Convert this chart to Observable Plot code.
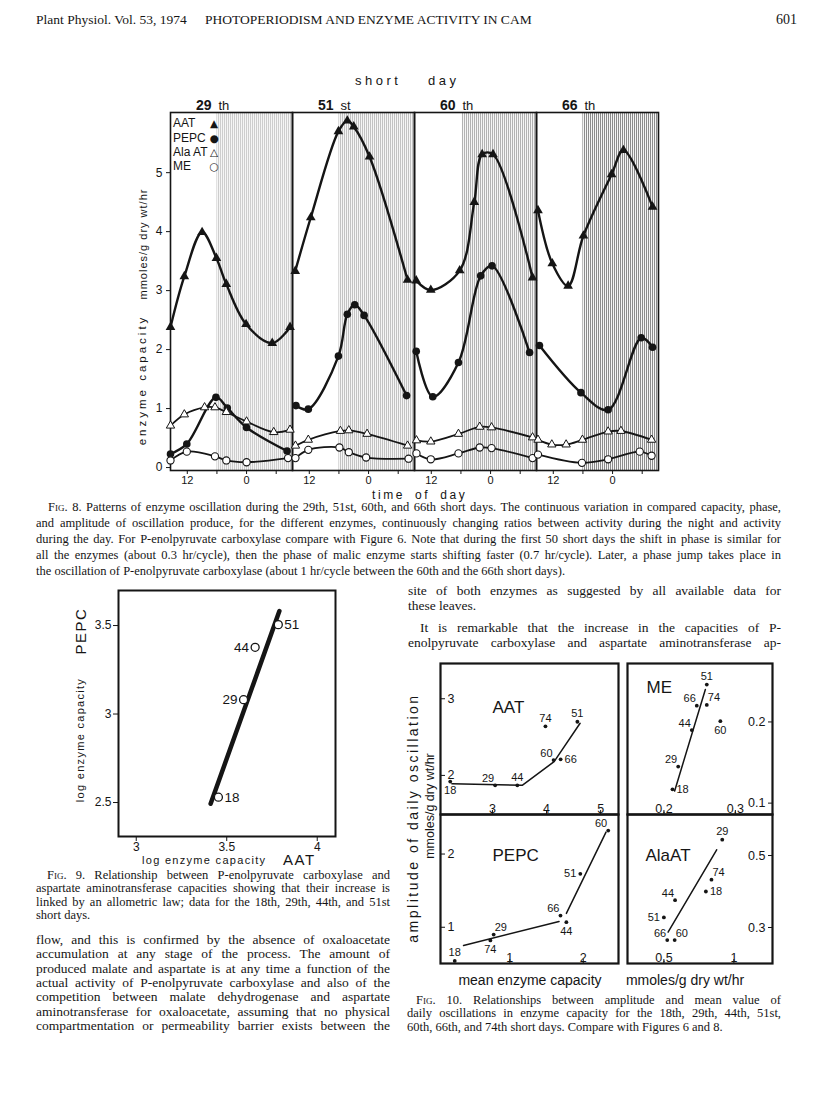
<!DOCTYPE html>
<html><head><meta charset="utf-8">
<script src="https://cdn.jsdelivr.net/npm/d3@7"></script>
<script src="https://cdn.jsdelivr.net/npm/@observablehq/plot@0.6"></script>
<style>
body{margin:0;background:#fff;}
#page{position:relative;width:816px;height:1107px;overflow:hidden;background:#fff;}
</style>
</head><body><div id="page"></div>
<script>
// ---------------- DATA ----------------
// Fig. 8 : hour of day (24 = midnight "0"), enzyme capacity (mmoles/g dry wt/hr)
const fig8Panels = ["29", "51", "60", "66"];
const fig8PanelSuffix = ["th", "st", "th", "th"];
const fig8NightStart = [18, 18, 18.3, 18];
const fig8NightEnd = [33.3, 33.3, 33.3, 33.3];
const fig8XTicks = [12, 18, 24, 30];
const fig8XTickLabels = ["12", "", "0", ""];
const fig8YTicks = [0, 1, 2, 3, 4, 5];

const AAT_29 = [[8.6,2.38],[11.4,3.24],[15.0,3.99],[17.9,3.55],[19.9,3.11],[23.9,2.43],[29.2,2.11],[32.8,2.38]];
const AAT_51 = [[9.15,3.33],[12.3,4.24],[17.9,5.70],[19.7,5.88],[21.0,5.78],[24.2,5.27],[31.9,3.18]];
const AAT_60 = [[8.95,3.17],[11.9,3.01],[17.75,3.34],[20.7,4.50],[22.3,5.31],[24.5,5.31],[32.5,3.22]];
const AAT_66 = [[8.9,4.36],[11.8,3.46],[15.0,3.08],[18.1,3.93],[23.8,4.97],[26.2,5.38],[32.1,4.42]];

const PEPC_29 = [[8.6,0.23],[11.9,0.40],[17.8,1.19],[20.1,1.01],[24.0,0.68],[32.2,0.28]];
const PEPC_51 = [[9.3,1.05],[11.8,0.99],[17.9,1.89],[19.7,2.60],[21.2,2.76],[23.1,2.58],[31.7,1.22]];
const PEPC_60 = [[8.95,1.97],[12.3,1.20],[17.5,1.78],[22.0,3.25],[24.3,3.42],[31.9,1.95]];
const PEPC_66 = [[9.2,2.07],[17.6,1.27],[23.1,0.98],[29.8,2.20],[32.1,2.04]];

const ALAAT_29 = [[8.6,0.71],[11.4,0.90],[15.5,1.02],[17.6,1.02],[19.9,0.94],[24.0,0.78],[29.5,0.60],[32.8,0.64]];
const ALAAT_51 = [[9.2,0.37],[11.8,0.47],[18.3,0.62],[20.0,0.63],[23.7,0.57],[31.9,0.37]];
const ALAAT_60 = [[9.0,0.46],[11.9,0.44],[17.5,0.57],[21.8,0.69],[24.2,0.68],[32.5,0.51]];
const ALAAT_66 = [[8.9,0.47],[11.7,0.39],[14.6,0.39],[17.9,0.47],[23.1,0.61],[25.7,0.62],[31.9,0.47]];

const ME_29 = [[8.6,0.12],[11.9,0.27],[17.6,0.19],[19.9,0.12],[24.0,0.09],[32.4,0.16]];
const ME_51 = [[9.2,0.16],[11.8,0.30],[18.1,0.34],[20.0,0.26],[23.5,0.17],[32.1,0.15]];
const ME_60 = [[9.0,0.24],[11.9,0.14],[17.5,0.24],[21.8,0.34],[24.2,0.33],[32.5,0.16]];
const ME_66 = [[8.9,0.22],[17.8,0.08],[23.1,0.14],[29.5,0.27],[31.9,0.20]];

// Fig. 9 : log enzyme capacity
const fig9Days = ["18", "29", "44", "51"];
const fig9AAT = [3.454, 3.593, 3.657, 3.785];
const fig9PEPC = [2.53, 3.081, 3.377, 3.505];
const fig9LabelSide = ["right", "left", "left", "right"];
const fig9FitAAT = [3.411, 3.791];
const fig9FitPEPC = [2.493, 3.582];
const fig9XTicks = [3, 3.5, 4];
const fig9YTicks = [2.5, 3, 3.5];

// Fig. 10 : mean enzyme capacity vs amplitude of daily oscillation
const aatDays = ["18","29","44","60","66","74","51"];
const aatMean = [2.22,3.05,3.46,4.13,4.26,3.98,4.57];
const aatAmp  = [1.92,1.87,1.87,2.20,2.21,2.64,2.70];
const aatLabelPos = ["s","nw","n","nw","e","n","n"];
const aatFitMean = [2.25,3.55,4.14,4.62];
const aatFitAmp  = [1.89,1.87,2.18,2.68];
const aatFitSeg  = [0,0,0,0];

const pepcDays = ["18","74","29","66","44","51","60"];
const pepcMean = [0.25,0.735,0.78,1.69,1.77,1.96,2.34];
const pepcAmp  = [0.54,0.82,0.90,1.16,1.07,1.73,2.32];
const pepcLabelPos = ["n","s","ne","nw","s","w","nw"];
const pepcFitMean = [0.37,1.67,1.77,2.31];
const pepcFitAmp  = [0.75,1.08,1.19,2.30];
const pepcFitSeg  = [0,0,1,1];

const meDays = ["51","66","74","60","44","29","18"];
const meMean = [0.260,0.246,0.260,0.279,0.239,0.220,0.212];
const meAmp  = [0.246,0.220,0.221,0.201,0.190,0.145,0.117];
const meLabelPos = ["n","nw","ne","s","nw","nw","e"];
const meFitMean = [0.215,0.258];
const meFitAmp  = [0.115,0.240];
const meFitSeg  = [0,0];

const alaDays = ["29","74","18","44","51","66","60"];
const alaMean = [0.917,0.84,0.80,0.58,0.50,0.524,0.577];
const alaAmp  = [0.544,0.433,0.400,0.376,0.328,0.265,0.265];
const alaLabelPos = ["n","ne","e","nw","w","nw","ne"];
const alaFitMean = [0.53,0.877];
const alaFitAmp  = [0.287,0.516];
const alaFitSeg  = [0,0];

// ---------------- HELPERS ----------------
const SANS = '"Liberation Sans", Arial, Helvetica, sans-serif';
const SERIF = '"Liberation Serif", "Times New Roman", serif';
const INK = "#151515";
const page = document.getElementById("page");

function addText(content, o) {
  const size = o.size || 13, d = document.createElement("div");
  if (o.html) d.innerHTML = content; else d.textContent = content;
  const s = d.style;
  s.position = "absolute"; s.fontFamily = o.font || SERIF; s.fontSize = size + "px";
  s.lineHeight = size + "px"; s.color = INK;
  if (o.weight) s.fontWeight = o.weight;
  if (o.ls != null) s.letterSpacing = o.ls + "px";
  if (o.ws != null) s.wordSpacing = o.ws + "px";
  if (o.width) {
    s.width = o.width + "px"; s.whiteSpace = "normal"; s.textAlign = "justify";
    s.textAlignLast = o.last ? "left" : "justify"; s.height = size + "px";
  } else s.whiteSpace = "nowrap";
  s.left = o.x + "px"; s.top = (o.y - size / 2) + "px";
  if (o.rotate) { s.top = o.y + "px"; s.transform = "translate(-50%,-50%) rotate(-90deg)"; }
  else if (o.anchor === "middle") s.transform = "translateX(-50%)";
  else if (o.anchor === "end") s.transform = "translateX(-100%)";
  page.appendChild(d);
  return d;
}
function placeSvg(svg, left, top) {
  svg.style.position = "absolute"; svg.style.left = left + "px"; svg.style.top = top + "px";
  svg.style.maxWidth = "none"; svg.style.background = "transparent"; svg.style.overflow = "visible";
  page.appendChild(svg);
}
const FIG = '<span style="font-variant:small-caps">Fig.</span>';

// ---------------- HEADER ----------------
addText("Plant Physiol. Vol. 53, 1974", {x: 36, y: 20, size: 13.5});
addText("PHOTOPERIODISM AND ENZYME ACTIVITY IN CAM", {x: 205, y: 20, size: 13.5});
addText("601", {x: 797, y: 20, size: 14, anchor: "end"});

// ---------------- FIG 8 ----------------
function rows(enzyme, panel, pairs) { return pairs.map(([hour, value]) => ({enzyme, panel, hour, value})); }
const fig8Rows = [
  ...rows("AAT","29",AAT_29), ...rows("AAT","51",AAT_51), ...rows("AAT","60",AAT_60), ...rows("AAT","66",AAT_66),
  ...rows("PEPC","29",PEPC_29), ...rows("PEPC","51",PEPC_51), ...rows("PEPC","60",PEPC_60), ...rows("PEPC","66",PEPC_66),
  ...rows("AlaAT","29",ALAAT_29), ...rows("AlaAT","51",ALAAT_51), ...rows("AlaAT","60",ALAAT_60), ...rows("AlaAT","66",ALAAT_66),
  ...rows("ME","29",ME_29), ...rows("ME","51",ME_51), ...rows("ME","60",ME_60), ...rows("ME","66",ME_66)
];
const byEnz = e => fig8Rows.filter(r => r.enzyme === e);
const nights = fig8Panels.map((p, i) => ({panel: p, start: fig8NightStart[i], end: fig8NightEnd[i]}));
const hatchInk = {"29": "#cdcdcd", "51": "#c2c2c2", "60": "#b2b2b2", "66": "#8c8c8c"};

const F8 = {left: 169, top: 112, w: 490, h: 358};
const m8 = {l: 30, r: 6, t: 30, b: 24};
const fig8 = Plot.plot({
  width: F8.w + m8.l + m8.r, height: F8.h + m8.t + m8.b,
  marginLeft: m8.l, marginRight: m8.r, marginTop: m8.t, marginBottom: m8.b,
  style: {fontFamily: SANS, fontSize: "12px", color: INK, background: "transparent"},
  fx: {domain: fig8Panels, padding: 0, axis: null, label: null},
  x: {domain: [8.6, 33.3]},
  y: {domain: [-0.05, 6.02]},
  marks: [
    ...nights.map(n => Plot.rect([n], {x1: "start", x2: "end", fx: "panel", fill: `url(#hatch${n.panel})`})),
    Plot.frame({stroke: INK, strokeWidth: 1.6}),
    Plot.axisY({ticks: fig8YTicks, tickFormat: d => String(d), tickSize: 4, tickPadding: 4, label: null, fontSize: 12}),
    Plot.axisX({ticks: fig8XTicks, tickFormat: d => fig8XTickLabels[fig8XTicks.indexOf(d)], tickSize: 4, tickPadding: 2, label: null, fontSize: 11}),
    Plot.line(byEnz("AAT"), {x: "hour", y: "value", fx: "panel", curve: "catmull-rom", stroke: INK, strokeWidth: 2.4}),
    Plot.line(byEnz("PEPC"), {x: "hour", y: "value", fx: "panel", curve: "catmull-rom", stroke: INK, strokeWidth: 2.4}),
    Plot.line(byEnz("AlaAT"), {x: "hour", y: "value", fx: "panel", curve: "catmull-rom", stroke: INK, strokeWidth: 1.8}),
    Plot.line(byEnz("ME"), {x: "hour", y: "value", fx: "panel", curve: "catmull-rom", stroke: INK, strokeWidth: 1.8}),
    Plot.dot(byEnz("AAT"), {x: "hour", y: "value", fx: "panel", symbol: "triangle", r: 3.6, fill: INK}),
    Plot.dot(byEnz("PEPC"), {x: "hour", y: "value", fx: "panel", symbol: "circle", r: 3.8, fill: INK}),
    Plot.dot(byEnz("AlaAT"), {x: "hour", y: "value", fx: "panel", symbol: "triangle", r: 3.1, fill: "white", stroke: INK, strokeWidth: 1}),
    Plot.dot(byEnz("ME"), {x: "hour", y: "value", fx: "panel", symbol: "circle", r: 3.6, fill: "white", stroke: INK, strokeWidth: 1.1}),
    Plot.text(fig8Panels, {fx: d => d, text: d => d, frameAnchor: "top", textAnchor: "end", dx: -20, dy: -12, fontWeight: "bold", fontSize: 14}),
    Plot.text(fig8Panels, {fx: d => d, text: (d, i) => fig8PanelSuffix[i], frameAnchor: "top", textAnchor: "start", dx: -13, dy: -12, fontSize: 13})
  ]
});
{
  const defs = d3.select(fig8).insert("defs", ":first-child");
  fig8Panels.forEach(p => {
    const pat = defs.append("pattern").attr("id", "hatch" + p).attr("patternUnits", "userSpaceOnUse").attr("width", 2).attr("height", 4);
    pat.append("rect").attr("width", 2).attr("height", 4).attr("fill", "#f5f5f5");
    pat.append("rect").attr("width", 1).attr("height", 4).attr("fill", hatchInk[p]);
  });
}
placeSvg(fig8, F8.left - m8.l, F8.top - m8.t);

addText("short", {x: 355, y: 80, size: 13, font: SANS, ls: 3.5});
addText("day", {x: 428, y: 80, size: 13, font: SANS, ls: 3.5});
addText("time of day", {x: 372, y: 495, size: 12, font: SANS, ls: 2.6, ws: 4});
addText("enzyme capacity", {x: 143, y: 380, size: 11.5, font: SANS, ls: 3, rotate: true});
addText("mmoles/g dry wt/hr", {x: 143, y: 244, size: 11, font: SANS, ls: 1, rotate: true});
// legend
[["AAT", "▲", 123], ["PEPC", "●", 138], ["Ala AT", "△", 152], ["ME", "○", 166]].forEach(([t, sym, y]) => {
  addText(t, {x: 173, y, size: 12, font: SANS});
  addText(sym, {x: 214, y: y, size: 10.5, font: '"DejaVu Sans", sans-serif', anchor: "middle"});
});

// Fig 8 caption
const cap8 = [
  FIG + " 8. Patterns of enzyme oscillation during the 29th, 51st, 60th, and 66th short days. The continuous variation in compared capacity, phase,",
  "and amplitude of oscillation produce, for the different enzymes, continuously changing ratios between activity during the night and activity",
  "during the day. For P-enolpyruvate carboxylase compare with Figure 6. Note that during the first 50 short days the shift in phase is similar for",
  "all the enzymes (about 0.3 hr/cycle), then the phase of malic enzyme starts shifting faster (0.7 hr/cycle). Later, a phase jump takes place in",
  "the oscillation of P-enolpyruvate carboxylase (about 1 hr/cycle between the 60th and the 66th short days)."
];
cap8.forEach((t, i) => addText(t, {html: true, x: i === 0 ? 48 : 36, y: 507 + i * 16, width: i === 0 ? 733 : 745, size: 12.5, last: i === cap8.length - 1}));

// ---------------- FIG 9 ----------------
const fig9Pts = fig9Days.map((d, i) => ({day: d, aat: fig9AAT[i], pepc: fig9PEPC[i], side: fig9LabelSide[i]}));
const fig9Fit = fig9FitAAT.map((x, i) => ({aat: x, pepc: fig9FitPEPC[i]}));
const F9 = {left: 118, top: 590, w: 217, h: 246};
const m9 = {l: 40, r: 8, t: 6, b: 24};
const fig9 = Plot.plot({
  width: F9.w + m9.l + m9.r, height: F9.h + m9.t + m9.b,
  marginLeft: m9.l, marginRight: m9.r, marginTop: m9.t, marginBottom: m9.b,
  style: {fontFamily: SANS, fontSize: "12px", color: INK, background: "transparent"},
  x: {domain: [2.902, 4.101]},
  y: {domain: [2.308, 3.698]},
  marks: [
    Plot.frame({stroke: INK, strokeWidth: 2}),
    Plot.axisY({ticks: fig9YTicks, tickFormat: d => String(d), tickSize: 5, tickPadding: 2, label: null, fontSize: 12}),
    Plot.axisX({ticks: fig9XTicks, tickFormat: d => String(d), tickSize: 5, tickPadding: 1, label: null, fontSize: 12}),
    Plot.line(fig9Fit, {x: "aat", y: "pepc", stroke: INK, strokeWidth: 4.5}),
    Plot.dot(fig9Pts, {x: "aat", y: "pepc", r: 4, fill: "white", stroke: INK, strokeWidth: 1.3}),
    Plot.text(fig9Pts.filter(p => p.side === "right"), {x: "aat", y: "pepc", text: "day", textAnchor: "start", dx: 6, fontSize: 13.5}),
    Plot.text(fig9Pts.filter(p => p.side === "left"), {x: "aat", y: "pepc", text: "day", textAnchor: "end", dx: -6, fontSize: 13.5})
  ]
});
placeSvg(fig9, F9.left - m9.l, F9.top - m9.t);
addText("log enzyme capacity", {x: 142, y: 860, size: 11, font: SANS, ls: 1.3});
addText("AAT", {x: 283, y: 859, size: 15, font: SANS, ls: 1.5});
addText("log enzyme capacity", {x: 80, y: 740, size: 11, font: SANS, ls: 1.3, rotate: true});
addText("PEPC", {x: 80, y: 631, size: 15, font: SANS, ls: 1.5, rotate: true});

const cap9 = [
  FIG + " 9. Relationship between P-enolpyruvate carboxylase and",
  "aspartate aminotransferase capacities showing that their increase is",
  "linked by an allometric law; data for the 18th, 29th, 44th, and 51st",
  "short days."
];
cap9.forEach((t, i) => addText(t, {html: true, x: i === 0 ? 47 : 36, y: 875 + i * 13.4, width: i === 0 ? 343 : 354, size: 12.5, last: i === cap9.length - 1}));

const bodyLeft = [
  "flow, and this is confirmed by the absence of oxaloacetate",
  "accumulation at any stage of the process. The amount of",
  "produced malate and aspartate is at any time a function of the",
  "actual activity of P-enolpyruvate carboxylase and also of the",
  "competition between malate dehydrogenase and aspartate",
  "aminotransferase for oxaloacetate, assuming that no physical",
  "compartmentation or permeability barrier exists between the"
];
bodyLeft.forEach((t, i) => addText(t, {x: 36, y: 939.5 + i * 14.4, width: 354, size: 13.5}));

addText("site of both enzymes as suggested by all available data for", {x: 408, y: 591, width: 373, size: 13.5});
addText("these leaves.", {x: 408, y: 605.5, size: 13.5});
addText("It is remarkable that the increase in the capacities of P-", {x: 420, y: 628, width: 361, size: 13.5});
addText("enolpyruvate carboxylase and aspartate aminotransferase ap-", {x: 408, y: 642.5, width: 373, size: 13.5});

// ---------------- FIG 10 ----------------
const labelOffsets = {
  n: {dx: 0, dy: -8, a: "middle"}, s: {dx: 0, dy: 9, a: "middle"},
  e: {dx: 4, dy: 0, a: "start"}, w: {dx: -4, dy: 0, a: "end"},
  ne: {dx: 1, dy: -7, a: "start"}, nw: {dx: -1, dy: -7, a: "end"}
};
function fig10Panel(c) {
  const pts = c.days.map((d, i) => ({day: d, mean: c.mean[i], amp: c.amp[i], pos: c.pos[i]}));
  const fit = c.fitMean.map((x, i) => ({mean: x, amp: c.fitAmp[i], seg: c.fitSeg[i]}));
  const M = 3;
  const svg = Plot.plot({
    width: c.w + 2 * M, height: c.h + 2 * M, margin: M,
    style: {fontFamily: SANS, fontSize: "12px", color: INK, background: "transparent"},
    x: {domain: c.xDomain}, y: {domain: c.yDomain},
    marks: [
      Plot.frame({stroke: INK, strokeWidth: 2.2}),
      Plot.axisY({anchor: c.yAnchor, ticks: c.yTicks, tickFormat: d => String(d), tickSize: -5, tickPadding: -2,
        textAnchor: c.yAnchor === "left" ? "start" : "end", label: null, fontSize: 12.5}),
      Plot.axisX({anchor: "bottom", ticks: c.xTicks, tickFormat: d => String(d), tickSize: -4, tickPadding: 2,
        lineAnchor: "bottom", label: null, fontSize: 12.5}),
      Plot.line(fit, {x: "mean", y: "amp", z: "seg", stroke: INK, strokeWidth: 1.5}),
      Plot.dot(pts, {x: "mean", y: "amp", r: 1.9, fill: INK}),
      ...Object.entries(labelOffsets).map(([k, o]) =>
        Plot.text(pts.filter(p => p.pos === k), {x: "mean", y: "amp", text: "day", dx: o.dx, dy: o.dy, textAnchor: o.a, fontSize: 11})),
      Plot.text([c.title], {frameAnchor: "top-left", textAnchor: "start", dx: c.tdx, dy: c.tdy, fontSize: 17})
    ]
  });
  placeSvg(svg, c.left - M, c.top - M);
}
fig10Panel({title: "AAT", days: aatDays, mean: aatMean, amp: aatAmp, pos: aatLabelPos, fitMean: aatFitMean, fitAmp: aatFitAmp, fitSeg: aatFitSeg,
  xDomain: [2.04, 5.33], yDomain: [1.49, 3.46], xTicks: [3, 4, 5], yTicks: [2, 3], yAnchor: "left",
  left: 440, top: 663, w: 178, h: 151, tdx: 52, tdy: 37});
fig10Panel({title: "PEPC", days: pepcDays, mean: pepcMean, amp: pepcAmp, pos: pepcLabelPos, fitMean: pepcFitMean, fitAmp: pepcFitAmp, fitSeg: pepcFitSeg,
  xDomain: [0.056, 2.48], yDomain: [0.505, 2.54], xTicks: [1, 2], yTicks: [1, 2], yAnchor: "left",
  left: 440, top: 814, w: 178, h: 149, tdx: 52, tdy: 34});
fig10Panel({title: "ME", days: meDays, mean: meMean, amp: meAmp, pos: meLabelPos, fitMean: meFitMean, fitAmp: meFitAmp, fitSeg: meFitSeg,
  xDomain: [0.149, 0.352], yDomain: [0.086, 0.272], xTicks: [0.2, 0.3], yTicks: [0.1, 0.2], yAnchor: "right",
  left: 627, top: 663, w: 145, h: 151, tdx: 19, tdy: 17});
fig10Panel({title: "AlaAT", days: alaDays, mean: alaMean, amp: alaAmp, pos: alaLabelPos, fitMean: alaFitMean, fitAmp: alaFitAmp, fitSeg: alaFitSeg,
  xDomain: [0.24, 1.276], yDomain: [0.2, 0.614], xTicks: [0.5, 1], yTicks: [0.3, 0.5], yAnchor: "right",
  left: 627, top: 814, w: 145, h: 149, tdx: 18, tdy: 34});

addText("amplitude of daily oscillation", {x: 413, y: 818, size: 14, font: SANS, ls: 2.5, rotate: true});
addText("mmoles/g dry wt/hr", {x: 430, y: 806, size: 12.5, font: SANS, rotate: true});
addText("mean enzyme capacity", {x: 530, y: 980, size: 14, font: SANS, anchor: "middle"});
addText("mmoles/g dry wt/hr", {x: 685, y: 980, size: 14, font: SANS, anchor: "middle"});

const cap10 = [
  FIG + " 10. Relationships between amplitude and mean value of",
  "daily oscillations in enzyme capacity for the 18th, 29th, 44th, 51st,",
  "60th, 66th, and 74th short days. Compare with Figures 6 and 8."
];
cap10.forEach((t, i) => addText(t, {html: true, x: i === 0 ? 416 : 407, y: 1000 + i * 13.5, width: i === 0 ? 365 : 374, size: 12.5, last: i === cap10.length - 1}));
</script>
</body></html>
